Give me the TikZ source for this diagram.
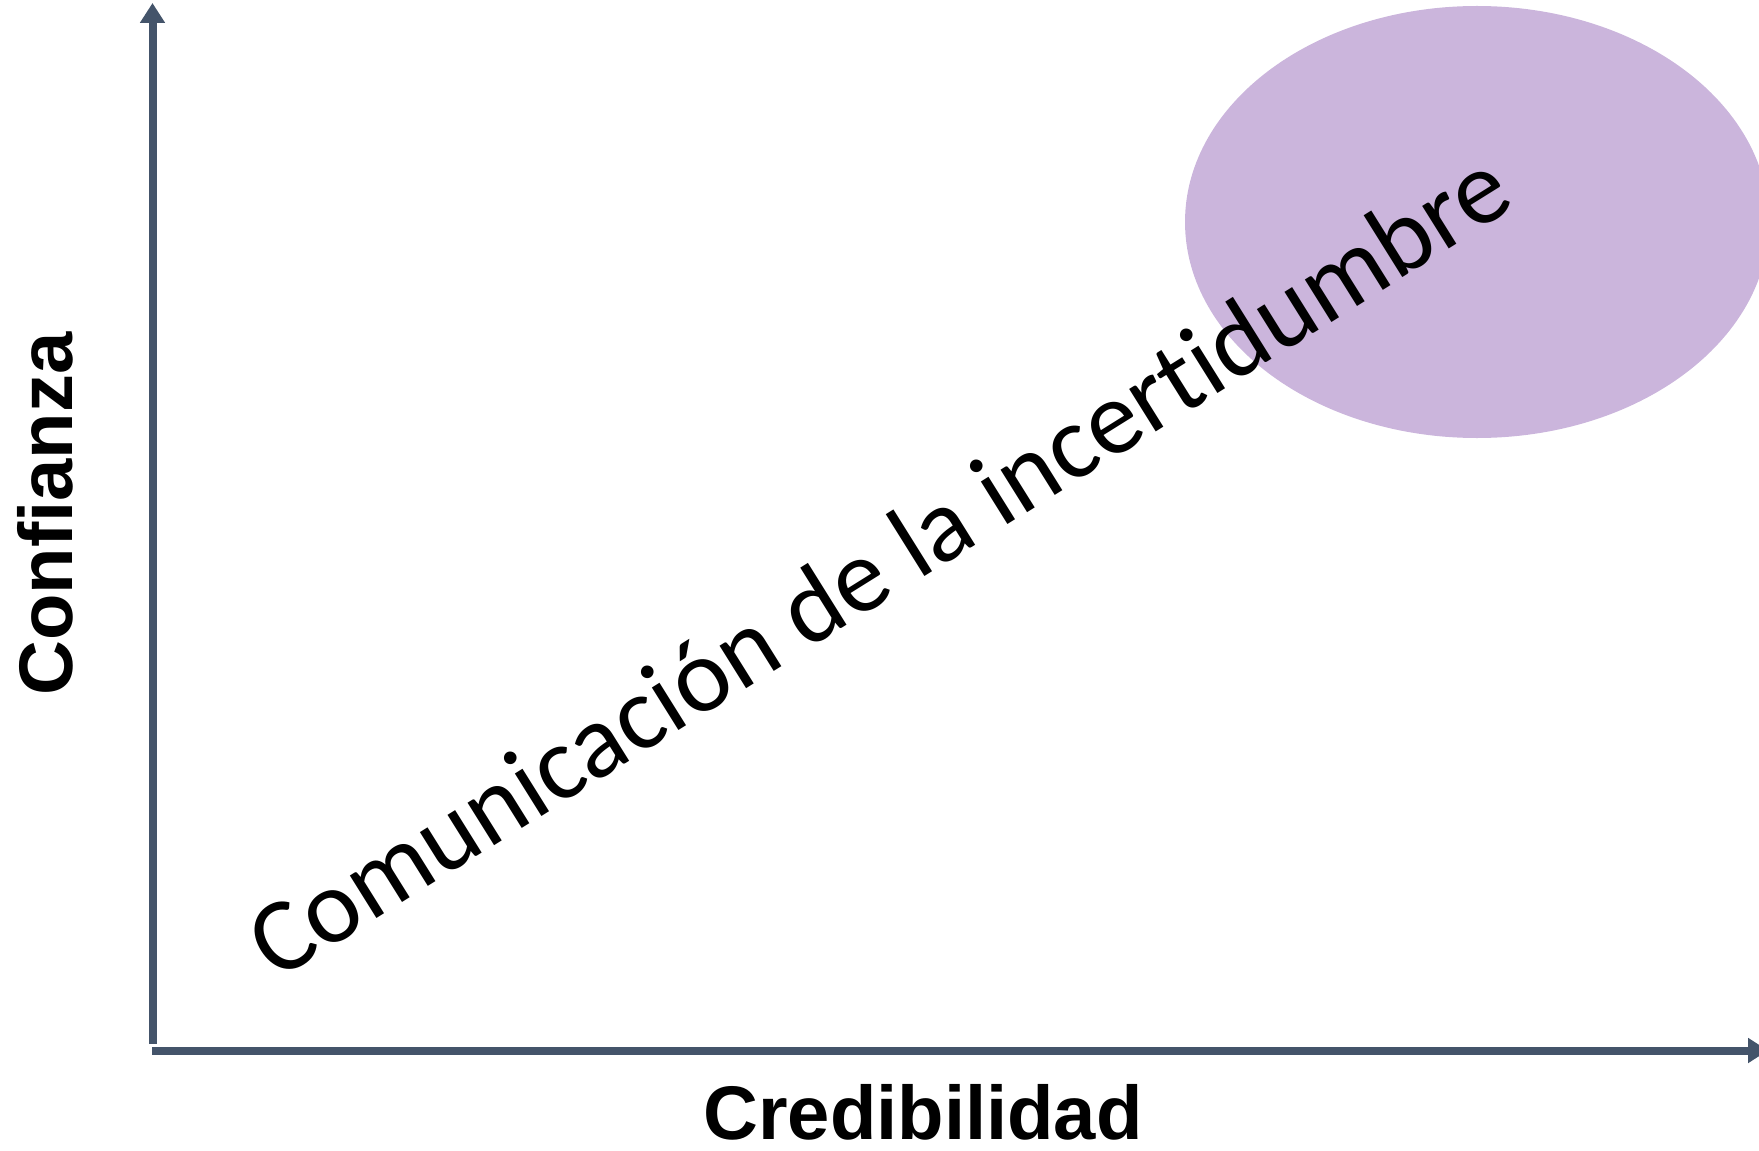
\documentclass[tikz,border=0pt]{standalone}
\usepackage{fontspec}
\usetikzlibrary{shapes.geometric,arrows.meta,positioning}
\newfontfamily\labelfont{Liberation Sans}
\newfontfamily\bodyfont[Ligatures=NoCommon]{Carlito}
\definecolor{axiscol}{HTML}{44546A}
\definecolor{zonecol}{HTML}{CBB5DC}
\tikzstyle{axis} = [-{Triangle[length=10pt,width=12pt]},line width=4pt,color=axiscol]
\tikzstyle{zone} = [ellipse,fill=zonecol,draw=none,inner sep=0,minimum width=292pt,minimum height=216pt]
\tikzstyle{axislabel} = [inner sep=0,anchor=base,font=\labelfont\bfseries\fontsize{38}{44}\selectfont]

\begin{document}
\begin{tikzpicture}[x=0.5pt,y=-0.5pt]
      \useasboundingbox (0,0) rectangle (1759,1150);
      \clip (0,0) rectangle (1759,1150);
      \node[zone] (zone) at (1477,222) {};
      \coordinate (yorig) at (152.5,1044);
      \coordinate (ytop) at (152.5,3);
      \coordinate (xorig) at (152,1050.5);
      \coordinate (xend) at (1768,1050.5);
      \draw[axis] (yorig) -- (ytop);
      \draw[axis] (xorig) -- (xend);
      \node[axislabel] (cred) at (923,1139) {Credibilidad};
      \node[axislabel,rotate=90] (conf) at (72,514) {Confianza};
      \node[inner sep=0,anchor=base,rotate=32,font=\bodyfont\fontsize{52.5}{60}\selectfont] (comm) at (897,594) {Comunicación de la incertidumbre};
    \end{tikzpicture}
\end{document}
